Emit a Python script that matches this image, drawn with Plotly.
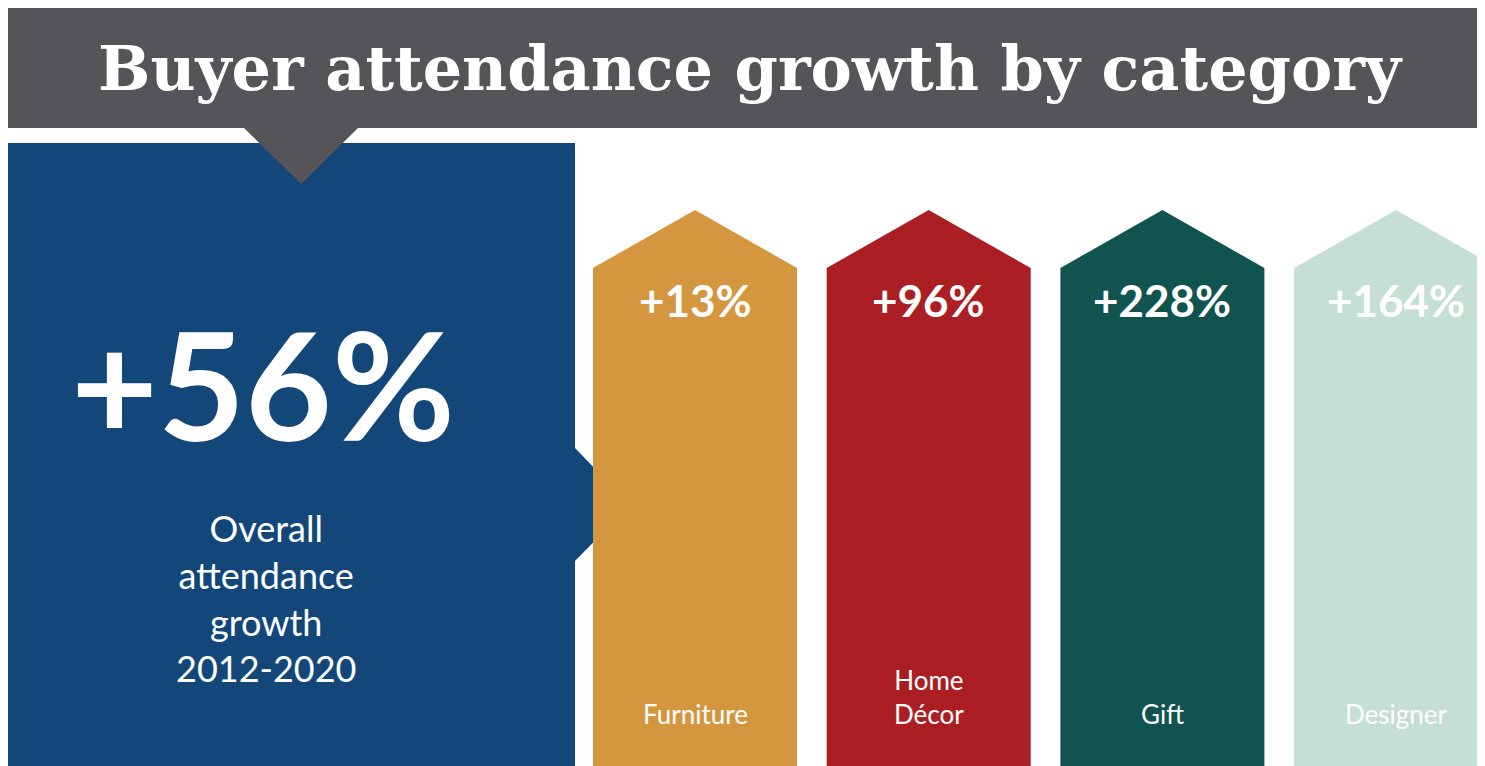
import plotly.graph_objects as go

W, H = 1485, 766
categories = ["Furniture", "Home<br>Décor", "Gift", "Designer"]
growth = [13, 96, 228, 164]
colors = ["#d4963f", "#ab1f24", "#11544f", "#c5dfd4"]
overall = 56
overall_label = "Overall<br>attendance<br>growth<br>2012-2020"
title = "Buyer attendance growth by category"

fig = go.Figure()

# blue panel with arrow to the right
fig.add_trace(go.Scatter(
    x=[0, 567, 567, 622, 567, 567, 0, 0],
    y=[135, 135, 440, 497, 553, 766, 766, 135],
    fill="toself", fillcolor="#13477a", line_width=0, mode="lines", hoverinfo="skip"))

# title bar and pointer
fig.add_trace(go.Scatter(
    x=[0, W, W, 350, 293, 236, 0, 0],
    y=[0, 0, 120, 120, 176, 120, 120, 0],
    fill="toself", fillcolor="#555559", line_width=0, mode="lines", hoverinfo="skip"))

left0, width, gap = 585, 204, 29.7
for i, (cat, g, c) in enumerate(zip(categories, growth, colors)):
    x0 = left0 + i * (width + gap)
    x1 = x0 + width
    xm = (x0 + x1) / 2
    fig.add_trace(go.Scatter(
        x=[x0, xm, x1, x1, x0, x0], y=[260, 202, 260, H, H, 260],
        fill="toself", fillcolor=c, line_width=0, mode="lines", hoverinfo="skip"))
    fig.add_annotation(x=xm, y=292, text=f"<b>+{g}%</b>", showarrow=False,
                       font=dict(size=44, color="white", family="Lato"))
    fig.add_annotation(x=xm, y=724, yanchor="bottom", text=cat, showarrow=False,
                       font=dict(size=26, color="white", family="Lato"))

fig.add_annotation(x=255, y=375, text=f"<b>+{overall}%</b>", showarrow=False,
                   font=dict(size=150, color="white", family="Lato"))
fig.add_annotation(x=258, y=590, text=overall_label, showarrow=False,
                   font=dict(size=36, color="white", family="Lato"))
fig.add_annotation(x=742, y=60, text=f"<b>{title}</b>", showarrow=False,
                   font=dict(size=62, color="white", family="DejaVu Serif"))

fig.update_layout(
    width=W, height=H, margin=dict(l=0, r=0, t=0, b=0),
    plot_bgcolor="white", paper_bgcolor="white", showlegend=False,
    xaxis=dict(range=[0, W], visible=False, fixedrange=True),
    yaxis=dict(range=[H, 0], visible=False, fixedrange=True),
)
fig.write_html("out.html")
